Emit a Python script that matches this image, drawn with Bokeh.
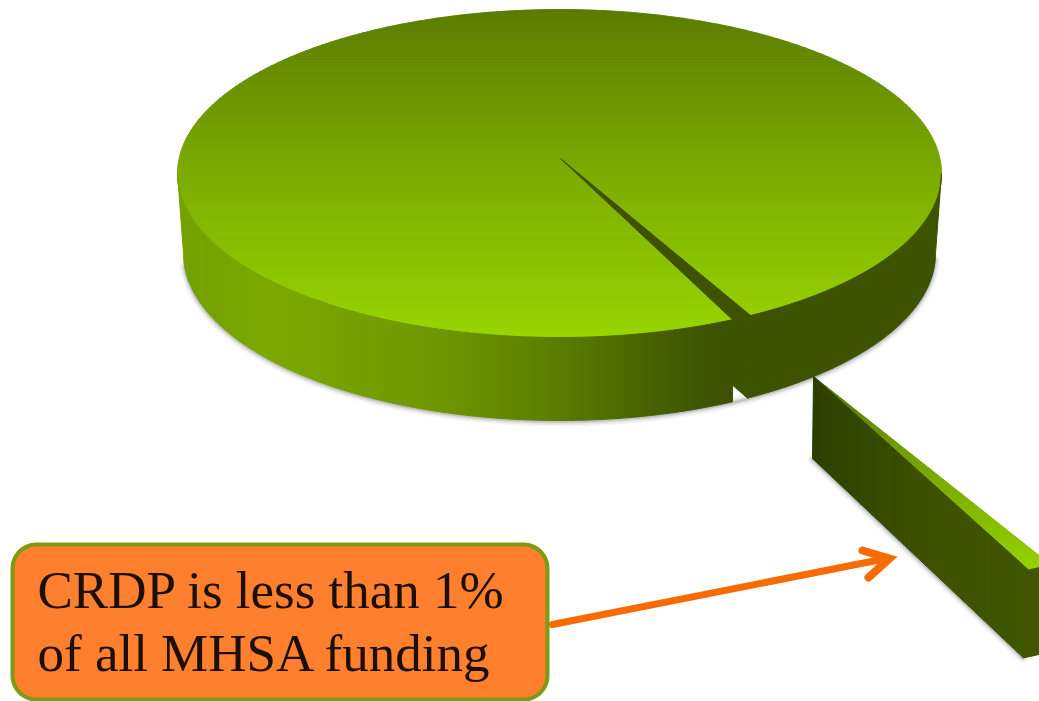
import numpy as np
from bokeh.embed import file_html
from bokeh.resources import INLINE
from bokeh.models import Range1d, ColumnDataSource
from bokeh.plotting import figure
from bokeh.core.properties import value

# ---- data ----
slice_names = ["Other MHSA funding", "CRDP"]
slice_shares = [99.15, 0.85]
note_lines = ["CRDP is less than 1%", "of all MHSA funding"]

# ---- projection / style ----
CX, CY, RX, RY = 559, 173, 382, 164            # top ellipse
BCX, BCY, BRX, BRY = 559, 253, 376, 167        # bottom ellipse
AX, AY, DEPTH = 560, 158, 78                   # apparent centre of the pie
CUT_START_DEG = 60.0
EXPLODE = (253, 218)
EX_SCALE = (1.25, 1.2)
EX_RIM_DEPTH = (-5, 88)
EX_APEX_DEPTH = (-1, 82)
WALL = "#3e5300"


def lerp_color(stops, f):
    xs = [s[0] for s in stops]
    rgb = [np.interp(f, xs, [int(s[1][i:i + 2], 16) for s in stops]) for i in (1, 3, 5)]
    return "#%02x%02x%02x" % tuple(int(round(c)) for c in rgb)


def clip(poly, axis, lo, hi):
    def half(pts, keep, cross):
        out = []
        for i in range(len(pts)):
            a, b = pts[i], pts[(i + 1) % len(pts)]
            ka, kb = keep(a[axis]), keep(b[axis])
            if ka:
                out.append(a)
            if ka != kb:
                k = (cross - a[axis]) / (b[axis] - a[axis])
                out.append((a[0] + k * (b[0] - a[0]), a[1] + k * (b[1] - a[1])))
        return out
    pts = half(poly, lambda v: v >= lo, lo)
    if pts:
        pts = half(pts, lambda v: v <= hi, hi)
    return pts


def strips(poly, axis, lo, hi, n, stops):
    xs, ys, cols = [], [], []
    edges = np.linspace(lo, hi, n + 1)
    for i in range(n):
        pts = clip(poly, axis, edges[i], edges[i + 1])
        if len(pts) >= 3:
            xs.append([q[0] for q in pts])
            ys.append([q[1] for q in pts])
            cols.append(lerp_color(stops, (i + 0.5) / n))
    return xs, ys, cols


def top(t):
    return (CX + RX * np.cos(t), CY + RY * np.sin(t))


def bottom(t):
    return (BCX + BRX * np.cos(t), BCY + BRY * np.sin(t))


span = np.radians(360 * slice_shares[1] / sum(slice_shares))
t0 = np.radians(CUT_START_DEG)
t1 = t0 + span

p = figure(width=1039, height=701, x_range=Range1d(0, 1039), y_range=Range1d(701, 0),
           output_backend="svg", toolbar_location=None, min_border=0,
           background_fill_color="white", border_fill_color="white")
p.axis.visible = False
p.grid.visible = False
p.outline_line_color = None


def draw(xs, ys, cols):
    p.patches(xs, ys, fill_color=cols, line_color=cols, line_width=1)


# top of exploded piece's geometry
rim_near = top(t1)
rim_far = top(t0)
ex_apex = (AX + EXPLODE[0], AY + EXPLODE[1])


def ex_pt(r):
    return (ex_apex[0] + EX_SCALE[0] * (r[0] - AX), ex_apex[1] + EX_SCALE[1] * (r[1] - AY))


ex_near, ex_far = ex_pt(rim_near), ex_pt(rim_far)
ex_near_low = (ex_near[0] + EX_RIM_DEPTH[0], ex_near[1] + EX_RIM_DEPTH[1])
ex_far_low = (ex_far[0] + EX_RIM_DEPTH[0], ex_far[1] + EX_RIM_DEPTH[1])
ex_apex_low = (ex_apex[0] + EX_APEX_DEPTH[0], ex_apex[1] + EX_APEX_DEPTH[1])

# soft shadows
t_main = np.radians(np.linspace(2, 176, 240))
t_main = t_main[(t_main < t0 + 0.001) | (t_main > t1)]
sx = [bottom(t)[0] for t in t_main]
sy = [bottom(t)[1] + 1 for t in t_main]
ex_sx = [ex_apex_low[0], ex_near_low[0] - 1]
ex_sy = [ex_apex_low[1] + 1, ex_near_low[1]]
for w, a in [(10, 0.05), (7, 0.07), (4, 0.11), (2, 0.14)]:
    p.line(sx, sy, line_color="#4a4a4a", line_width=w, line_alpha=a, line_cap="round")
    p.line(ex_sx, ex_sy, line_color="#4a4a4a", line_width=w, line_alpha=a, line_cap="round")

# main top face
ellipse = [top(t) for t in np.radians(np.linspace(0, 360, 360, endpoint=False))]
draw(*strips(ellipse, 1, CY - RY, CY + RY, 110, [(0, "#5b7c00"), (0.5, "#7cab00"), (1, "#98d500")]))

# left side wall with horizontal gradient
cut_x = rim_near[0]
t_low = np.arccos((cut_x - BCX) / BRX)
arc_top = np.linspace(t1, np.pi, 160)
arc_low = np.linspace(np.pi, t_low, 160)
left_wall = [top(t) for t in arc_top] + [bottom(t) for t in arc_low]
side_stops = [(0, "#74a000"), (0.17, "#7ca800"), (0.48, "#6e9600"), (0.7, "#587b00"), (0.9, "#425a00"), (1, "#3c5100")]
draw(*strips(left_wall, 0, left_wall[159][0] - 1, cut_x, 90, side_stops))

# right side wall
arc_top = np.linspace(0, t0, 120)
right_wall = [top(t) for t in arc_top] + [bottom(t) for t in arc_top[::-1]]
p.patch([q[0] for q in right_wall], [q[1] for q in right_wall], fill_color=WALL, line_color=WALL)

# cut in the pie, showing the inner wall
low_far = bottom(t0)
k = (cut_x - AX) / (low_far[0] - AX)
notch_y = AY + DEPTH + k * (low_far[1] - AY - DEPTH)
wedge = [(AX, AY), rim_near, (cut_x, notch_y), low_far, rim_far]
p.patch([q[0] for q in wedge], [q[1] for q in wedge], fill_color=WALL, line_color=WALL)

# exploded CRDP slice
tri = [ex_apex, ex_near, ex_far]
draw(*strips(tri, 1, ex_apex[1], ex_far[1] + 8, 40, [(0, "#4f7000"), (0.35, "#6f9c00"), (1, "#97d300")]))
face = [ex_near, ex_far, ex_far_low, ex_near_low]
p.patch([q[0] for q in face], [q[1] for q in face], fill_color="#3f5500", line_color="#3f5500")
side = [ex_apex, ex_near, ex_near_low, ex_apex_low]
draw(*strips(side, 0, ex_apex_low[0], ex_near[0], 40, [(0, "#2d3f00"), (0.55, "#3d5200"), (1, "#3f5500")]))

# callout arrow
arrow_col = "#f76b00"
p.line([552, 886], [624, 558], line_color=arrow_col, line_width=7, line_cap="round")
p.line([862, 889, 868], [550, 558, 577], line_color=arrow_col, line_width=8,
       line_cap="round", line_join="miter")

# callout box
L, R, T, B, rad = 12, 547, 544, 699, 24
ang = np.radians(np.arange(0, 91, 6))
bx = list(R - rad + rad * np.cos(ang)) + list(L + rad - rad * np.sin(ang)) + \
     list(L + rad - rad * np.cos(ang)) + list(R - rad + rad * np.sin(ang))
by = list(B - rad + rad * np.sin(ang)) + list(B - rad + rad * np.cos(ang)) + \
     list(T + rad - rad * np.sin(ang)) + list(T + rad - rad * np.cos(ang))
p.patch(bx, by, fill_color="#fe7f2d", line_color="#7c9a12", line_width=4)

src = ColumnDataSource(dict(x=[37, 37], y=[589, 652], t=note_lines))
p.text("x", "y", text="t", source=src, text_font=value("Liberation Serif"),
       text_font_size="53px", text_color="#1c1006", text_baseline="alphabetic", text_align="left")

open("out.html", "w").write(file_html(p, INLINE))
